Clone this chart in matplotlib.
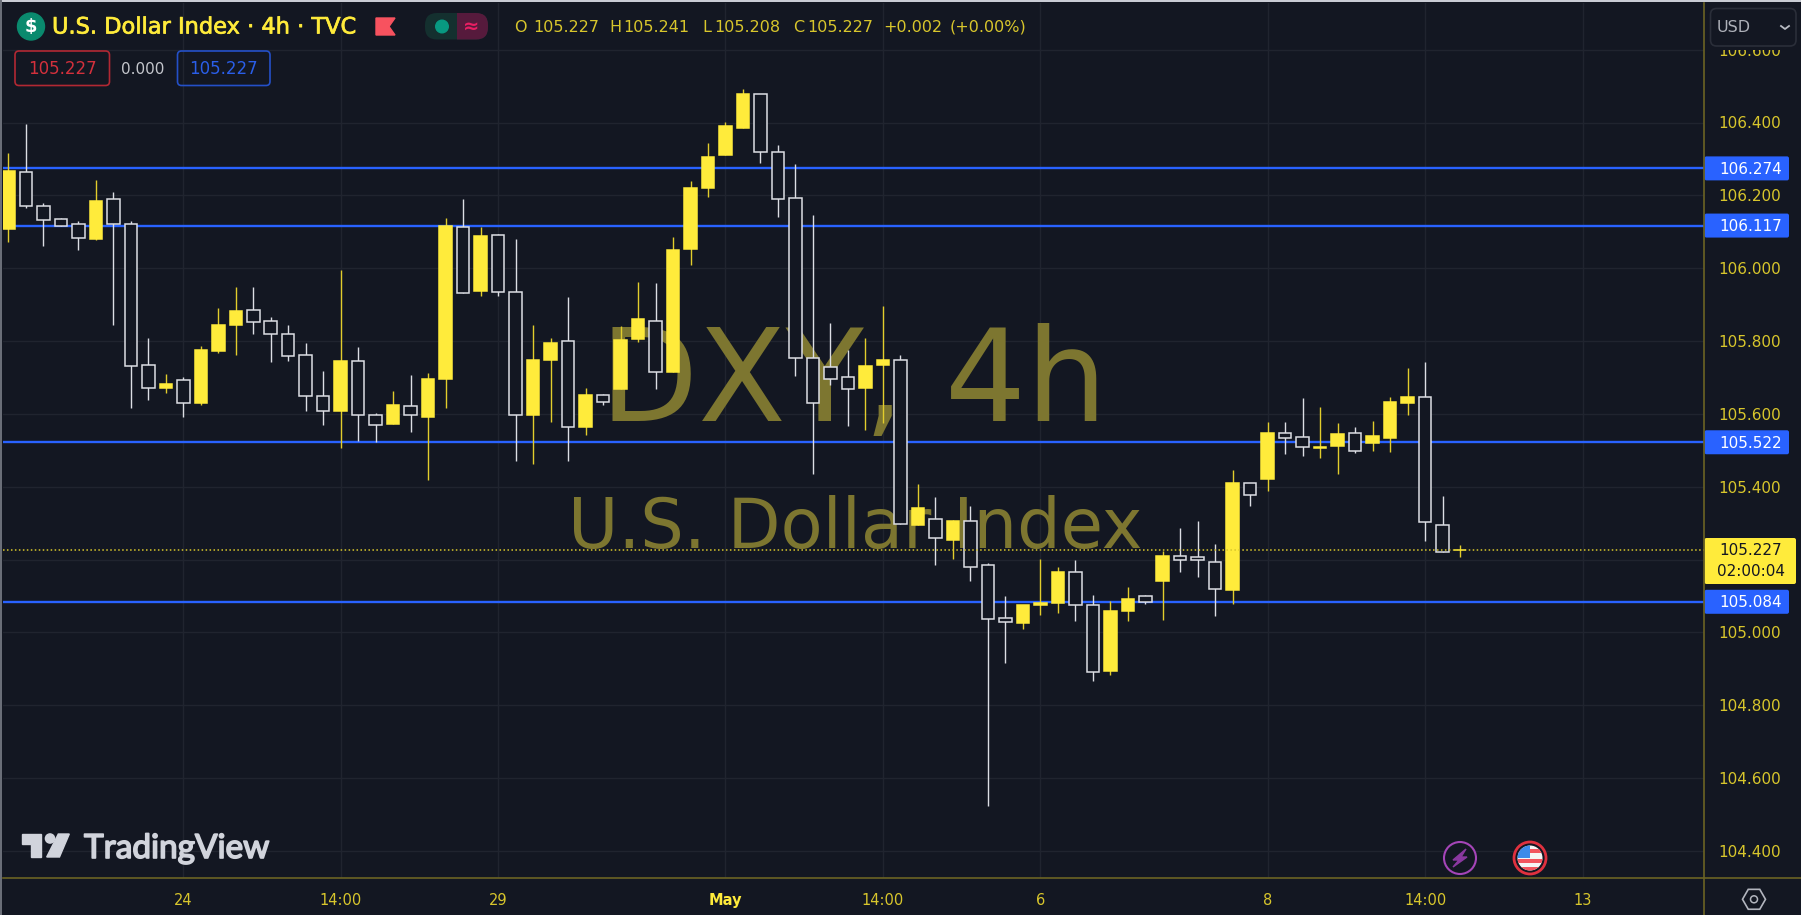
"""
DXY 4h candlestick chart, TradingView dark layout
"""
import matplotlib
matplotlib.use('Agg')
import matplotlib.pyplot as plt
import matplotlib.patches as mpatches
import matplotlib.patheffects as pe
import numpy as np

W, H = 1801, 915

opens = [106.107, 106.265, 106.170, 106.135, 106.121, 106.080, 106.190, 106.121, 105.734, 105.670,
         105.692, 105.631, 105.772, 105.845, 105.886, 105.855, 105.820, 105.761, 105.650, 105.608,
         105.745, 105.597, 105.572, 105.622, 105.592, 105.695, 106.112, 105.937, 106.092, 105.935,
         105.597, 105.747, 105.801, 105.563, 105.653, 105.667, 105.805, 105.855, 105.714, 106.054,
         106.219, 106.310, 106.385, 106.477, 106.319, 106.194, 105.754, 105.728, 105.701, 105.671,
         105.733, 105.748, 105.294, 105.311, 105.254, 105.305, 105.184, 105.039, 105.027, 105.074,
         105.080, 105.167, 105.075, 104.893, 105.058, 105.099, 105.140, 105.209, 105.208, 105.194,
         105.117, 105.410, 105.422, 105.547, 105.537, 105.507, 105.513, 105.547, 105.520, 105.533,
         105.631, 105.645, 105.295, 105.225]
highs = [106.315, 106.395, 106.178, 106.139, 106.129, 106.241, 106.208, 106.129, 105.807, 105.709,
         105.702, 105.787, 105.890, 105.949, 105.949, 105.866, 105.844, 105.795, 105.719, 105.995,
         105.784, 105.601, 105.663, 105.706, 105.713, 106.138, 106.189, 106.114, 106.093, 106.080,
         105.844, 105.807, 105.922, 105.670, 105.654, 105.841, 105.963, 105.958, 106.086, 106.240,
         106.345, 106.401, 106.491, 106.477, 106.339, 106.286, 106.145, 105.850, 105.774, 105.807,
         105.896, 105.761, 105.407, 105.371, 105.308, 105.348, 105.191, 105.099, 105.075, 105.201,
         105.180, 105.198, 105.102, 105.086, 105.125, 105.103, 105.223, 105.286, 105.306, 105.243,
         105.446, 105.410, 105.578, 105.578, 105.643, 105.620, 105.574, 105.564, 105.581, 105.646,
         105.725, 105.742, 105.374, 105.241]
lows = [106.071, 106.166, 106.061, 106.115, 106.051, 106.077, 105.844, 105.615, 105.638, 105.656,
        105.592, 105.625, 105.766, 105.762, 105.818, 105.743, 105.746, 105.608, 105.569, 105.507,
        105.526, 105.523, 105.572, 105.549, 105.418, 105.615, 105.932, 105.923, 105.923, 105.470,
        105.461, 105.578, 105.470, 105.542, 105.625, 105.667, 105.798, 105.667, 105.714, 106.008,
        106.195, 106.310, 106.385, 106.288, 106.140, 105.704, 105.435, 105.678, 105.566, 105.557,
        105.575, 105.298, 105.294, 105.185, 105.202, 105.140, 104.523, 104.916, 105.008, 105.047,
        105.054, 105.031, 104.867, 104.884, 105.031, 105.077, 105.035, 105.166, 105.152, 105.044,
        105.077, 105.346, 105.389, 105.490, 105.484, 105.478, 105.435, 105.493, 105.498, 105.494,
        105.598, 105.250, 105.222, 105.208]
closes = [106.267, 106.170, 106.131, 106.117, 106.082, 106.185, 106.121, 105.731, 105.671, 105.682,
          105.629, 105.775, 105.844, 105.883, 105.852, 105.819, 105.758, 105.650, 105.609, 105.746,
          105.597, 105.570, 105.624, 105.597, 105.696, 106.116, 105.933, 106.089, 105.934, 105.597,
          105.748, 105.794, 105.564, 105.653, 105.632, 105.804, 105.860, 105.715, 106.050, 106.221,
          106.306, 106.391, 106.477, 106.318, 106.190, 105.754, 105.629, 105.697, 105.668, 105.732,
          105.748, 105.298, 105.341, 105.258, 105.306, 105.179, 105.036, 105.028, 105.075, 105.082,
          105.165, 105.075, 104.891, 105.059, 105.092, 105.084, 105.210, 105.199, 105.198, 105.118,
          105.410, 105.377, 105.548, 105.533, 105.508, 105.510, 105.544, 105.498, 105.538, 105.633,
          105.647, 105.302, 105.222, 105.227]

price_ticks = [104.4, 104.6, 104.8, 105.0, 105.2, 105.4, 105.6, 105.8, 106.0, 106.2, 106.4, 106.6]
time_ticks = [10, 19, 28, 41, 50, 59, 72, 81, 90]
time_labels = ['24', '14:00', '29', 'May', '14:00', '6', '8', '14:00', '13']
level_prices = [106.274, 106.117, 105.522, 105.084]
last_price = 105.227
countdown = '02:00:04'

BG = '#131722'
GRID = '#20242f'
YELLOW = '#FFEB3B'
DIM_YELLOW = '#d8c62c'
WICK_YELLOW = '#e2cd2c'
WHITE = '#dcdee4'
BLUE = '#2962FF'
AXIS_LINE = '#6b6324'
WATERMARK = '#7d7630'
BORDER = '#c9ccd4'

plt.rcParams['font.family'] = ['DejaVu Sans']

fig = plt.figure(figsize=(W / 100, H / 100), dpi=100, facecolor=BG)

# main pane, pixel box x 3..1704, y 3..878
ax = fig.add_axes([3 / W, 1 - 878 / H, 1701 / W, 875 / H], facecolor=BG)
ax.set_xlim((3 - 8.4) / 17.49, (1704 - 8.4) / 17.49)
ax.set_ylim(106.4 - (878 - 122.5) / 364.2, 106.4 + (122.5 - 3) / 364.2)

for s in ax.spines.values():
    s.set_visible(False)
ax.grid(True, color=GRID, lw=1, zorder=0)
ax.set_axisbelow(True)
ax.yaxis.tick_right()
ax.set_yticks(price_ticks)
# the 105.200 label sits behind the last price tag in the reference
ax.set_yticklabels(['' if p == 105.2 else '%.3f' % p for p in price_ticks])
ax.set_xticks(time_ticks)
ax.set_xticklabels(time_labels)
ax.tick_params(axis='y', length=0, pad=33, labelsize=11, labelcolor=DIM_YELLOW)
ax.tick_params(axis='x', length=0, pad=10.5, labelsize=10.5, labelcolor=DIM_YELLOW)
for lab in ax.get_yticklabels():
    lab.set_ha('center')
for lab in ax.get_xticklabels():
    if lab.get_text() == 'May':
        lab.set_color(YELLOW)
        lab.set_fontweight('bold')


def px_x(x):
    return (x - 3) / 1701


def px_y(y):
    return 1 - (y - 3) / 875


# watermark
ax.text(px_x(854), px_y(421), 'DXY, 4h', transform=ax.transAxes, ha='center', va='baseline',
        fontsize=92, color=WATERMARK, zorder=1)
ax.text(px_x(855), px_y(548), 'U.S. Dollar Index', transform=ax.transAxes, ha='center', va='baseline',
        fontsize=49.5, color=WATERMARK, zorder=1)

# levels and last price
for p in level_prices:
    ax.axhline(p, color=BLUE, lw=1.7, zorder=2)
ax.axhline(last_price, color=DIM_YELLOW, lw=1.1, ls=(0, (1, 1.6)), zorder=6)

# candles
xs = list(range(len(opens)))
up = [c >= o for o, c in zip(opens, closes)]
for i in xs:
    wick_c = WICK_YELLOW if up[i] else WHITE
    ax.vlines(i, lows[i], highs[i], color=wick_c, lw=1.0, zorder=3)
    top = max(opens[i], closes[i])
    bot = min(opens[i], closes[i])
    ax.bar(i, top - bot, bottom=bot, width=0.715, facecolor=YELLOW if up[i] else BG,
           edgecolor=YELLOW if up[i] else WHITE, lw=1.1, zorder=4)

# overlay in pixel coordinates for the window furniture
ov = fig.add_axes([0, 0, 1, 1], facecolor='none')
ov.set_xlim(0, W)
ov.set_ylim(H, 0)
ov.axis('off')
ov.set_zorder(5)


def price_px(p):
    return H - ax.transData.transform((0, p))[1]


def rbox(x0, y0, x1, y1, r=2, **kw):
    b = mpatches.FancyBboxPatch((x0 + r, y0 + r), x1 - x0 - 2 * r, y1 - y0 - 2 * r,
                                boxstyle='round,pad=%g,rounding_size=%g' % (r, r), **kw)
    ov.add_patch(b)
    return b


# window edge
ov.add_patch(mpatches.Rectangle((0, 0), W, 2.2, facecolor=BORDER, edgecolor='none'))
ov.add_patch(mpatches.Rectangle((0, 0), 2.2, H, facecolor='#6a6e78', edgecolor='none'))

# axis separators
ov.plot([1704, 1704], [3, 915], color=AXIS_LINE, lw=1.2)
ov.plot([3, 1801], [878, 878], color=AXIS_LINE, lw=1.2)

# legend row
ov.add_patch(mpatches.Circle((31, 26.5), 13.5, color='#0a8a6e'))
ov.text(31, 26.5, '$', color='white', fontsize=13, fontweight='bold', ha='center', va='center')
ov.text(52, 27.5, 'U.S. Dollar Index · 4h · TVC', color=YELLOW, fontsize=16.2, va='center',
        path_effects=[pe.withStroke(linewidth=0.5, foreground=YELLOW)])
ov.add_patch(mpatches.Polygon([(376, 18), (395, 18), (389, 26.5), (395, 35), (376, 35)], color='#f7525f'))

rbox(425, 13, 488, 39.5, r=12, facecolor='#14302f', edgecolor='none')
clip_r = mpatches.Rectangle((457, 10), 40, 32, transform=ov.transData)
right = rbox(425, 13, 488, 39.5, r=12, facecolor='#561a3c', edgecolor='none')
right.set_clip_path(clip_r)
ov.add_patch(mpatches.Circle((442, 26.5), 6.3, color='#089981'))
ov.text(471.5, 26, '≈', color='#e91e63', fontsize=14, fontweight='bold', ha='center', va='center')

ohlc_parts = [(514, 'O'), (533, '105.227'), (609, 'H'), (623, '105.241'), (702, 'L'), (714, '105.208'),
              (793, 'C'), (807, '105.227'), (883, '+0.002'), (950, '(+0.00%)')]
for x, s in ohlc_parts:
    ov.text(x, 27.5, s, color=DIM_YELLOW, fontsize=11.5, va='center')

rbox(15, 51, 109.5, 85.5, r=4, facecolor='none', edgecolor='#b22833', lw=1.2)
ov.text(62, 69, '105.227', color='#d3303c', fontsize=12, ha='center', va='center')
ov.text(142.5, 69, '0.000', color='#c4c6cc', fontsize=11, ha='center', va='center')
rbox(177.5, 51, 270, 85.5, r=4, facecolor='none', edgecolor='#2450c8', lw=1.2)
ov.text(223.5, 69, '105.227', color='#2a5ee8', fontsize=12, ha='center', va='center')

# USD button covers the top tick
ov.add_patch(mpatches.Rectangle((1705, 3), 96, 47, facecolor=BG, edgecolor='none'))
rbox(1710.5, 8.5, 1796, 46, r=6, facecolor=BG, edgecolor='#2a2e39', lw=1.2)
ov.text(1717, 28, 'USD', color='#aeb1b9', fontsize=11.5, va='center')
ov.plot([1781, 1785, 1789], [26, 29, 26], color='#b8bbc3', lw=1.3)

# price tags
for p in level_prices:
    y = price_px(p)
    rbox(1704.5, y - 12, 1789, y + 12, r=2, facecolor=BLUE, edgecolor='none')
    ov.text(1750.5, y + 1, '%.3f' % p, color='white', fontsize=11, ha='center', va='center')
y = price_px(last_price)
rbox(1704.5, 538, 1796, 584, r=2, facecolor=YELLOW, edgecolor='none')
ov.text(1750.5, y + 1, '%.3f' % last_price, color=BG, fontsize=11, ha='center', va='center')
ov.text(1750.5, 572, countdown, color=BG, fontsize=11, ha='center', va='center')

# TradingView logo
LOGO = '#d1d4dc'
ov.add_patch(mpatches.Polygon([(21.7, 834), (40.7, 834), (40.7, 857), (30.7, 857), (30.7, 844), (21.7, 844)],
                              color=LOGO))
ov.add_patch(mpatches.Circle((50, 838.5), 4.6, color=LOGO))
ov.add_patch(mpatches.Polygon([(58.3, 834), (69.3, 834), (59.5, 857), (46.7, 857)], color=LOGO))
ov.text(84, 849, 'TradingView', color=LOGO, fontsize=24, family='Lato', va='center',
        path_effects=[pe.withStroke(linewidth=1.2, foreground=LOGO)])

# event icons
ov.add_patch(mpatches.Circle((1460, 858), 16, facecolor=BG, edgecolor='#a545b8', lw=1.5))
ov.add_patch(mpatches.Polygon([(1466, 849), (1453, 860), (1459, 860), (1453, 867), (1467, 857), (1461, 857)],
                              color='#8a38a0'))
ring = mpatches.Circle((1530, 858), 16, facecolor=BG, edgecolor='#e0313f', lw=2)
ov.add_patch(ring)
disc = mpatches.Circle((1530, 858), 12.5, transform=ov.transData)
ov.add_patch(mpatches.Rectangle((1516, 845), 30, 26, facecolor='#f5f5f5', edgecolor='none', clip_path=disc))
for sy in [849, 859, 867]:
    ov.add_patch(mpatches.Rectangle((1516, sy), 30, 3.5, facecolor='#f2555f', edgecolor='none', clip_path=disc))
ov.add_patch(mpatches.Rectangle((1516, 845), 14, 13, facecolor='#3d8bea', edgecolor='none', clip_path=disc))

# settings hexagon
ov.add_patch(mpatches.RegularPolygon((1754, 899.3), 6, radius=11.5, orientation=np.pi / 2, facecolor='none',
                                     edgecolor='#b2b5be', lw=1.2))
ov.add_patch(mpatches.Circle((1754, 899.3), 3.5, facecolor='none', edgecolor='#b2b5be', lw=1.1))

fig.savefig('out.png', dpi=100, facecolor=fig.get_facecolor())
